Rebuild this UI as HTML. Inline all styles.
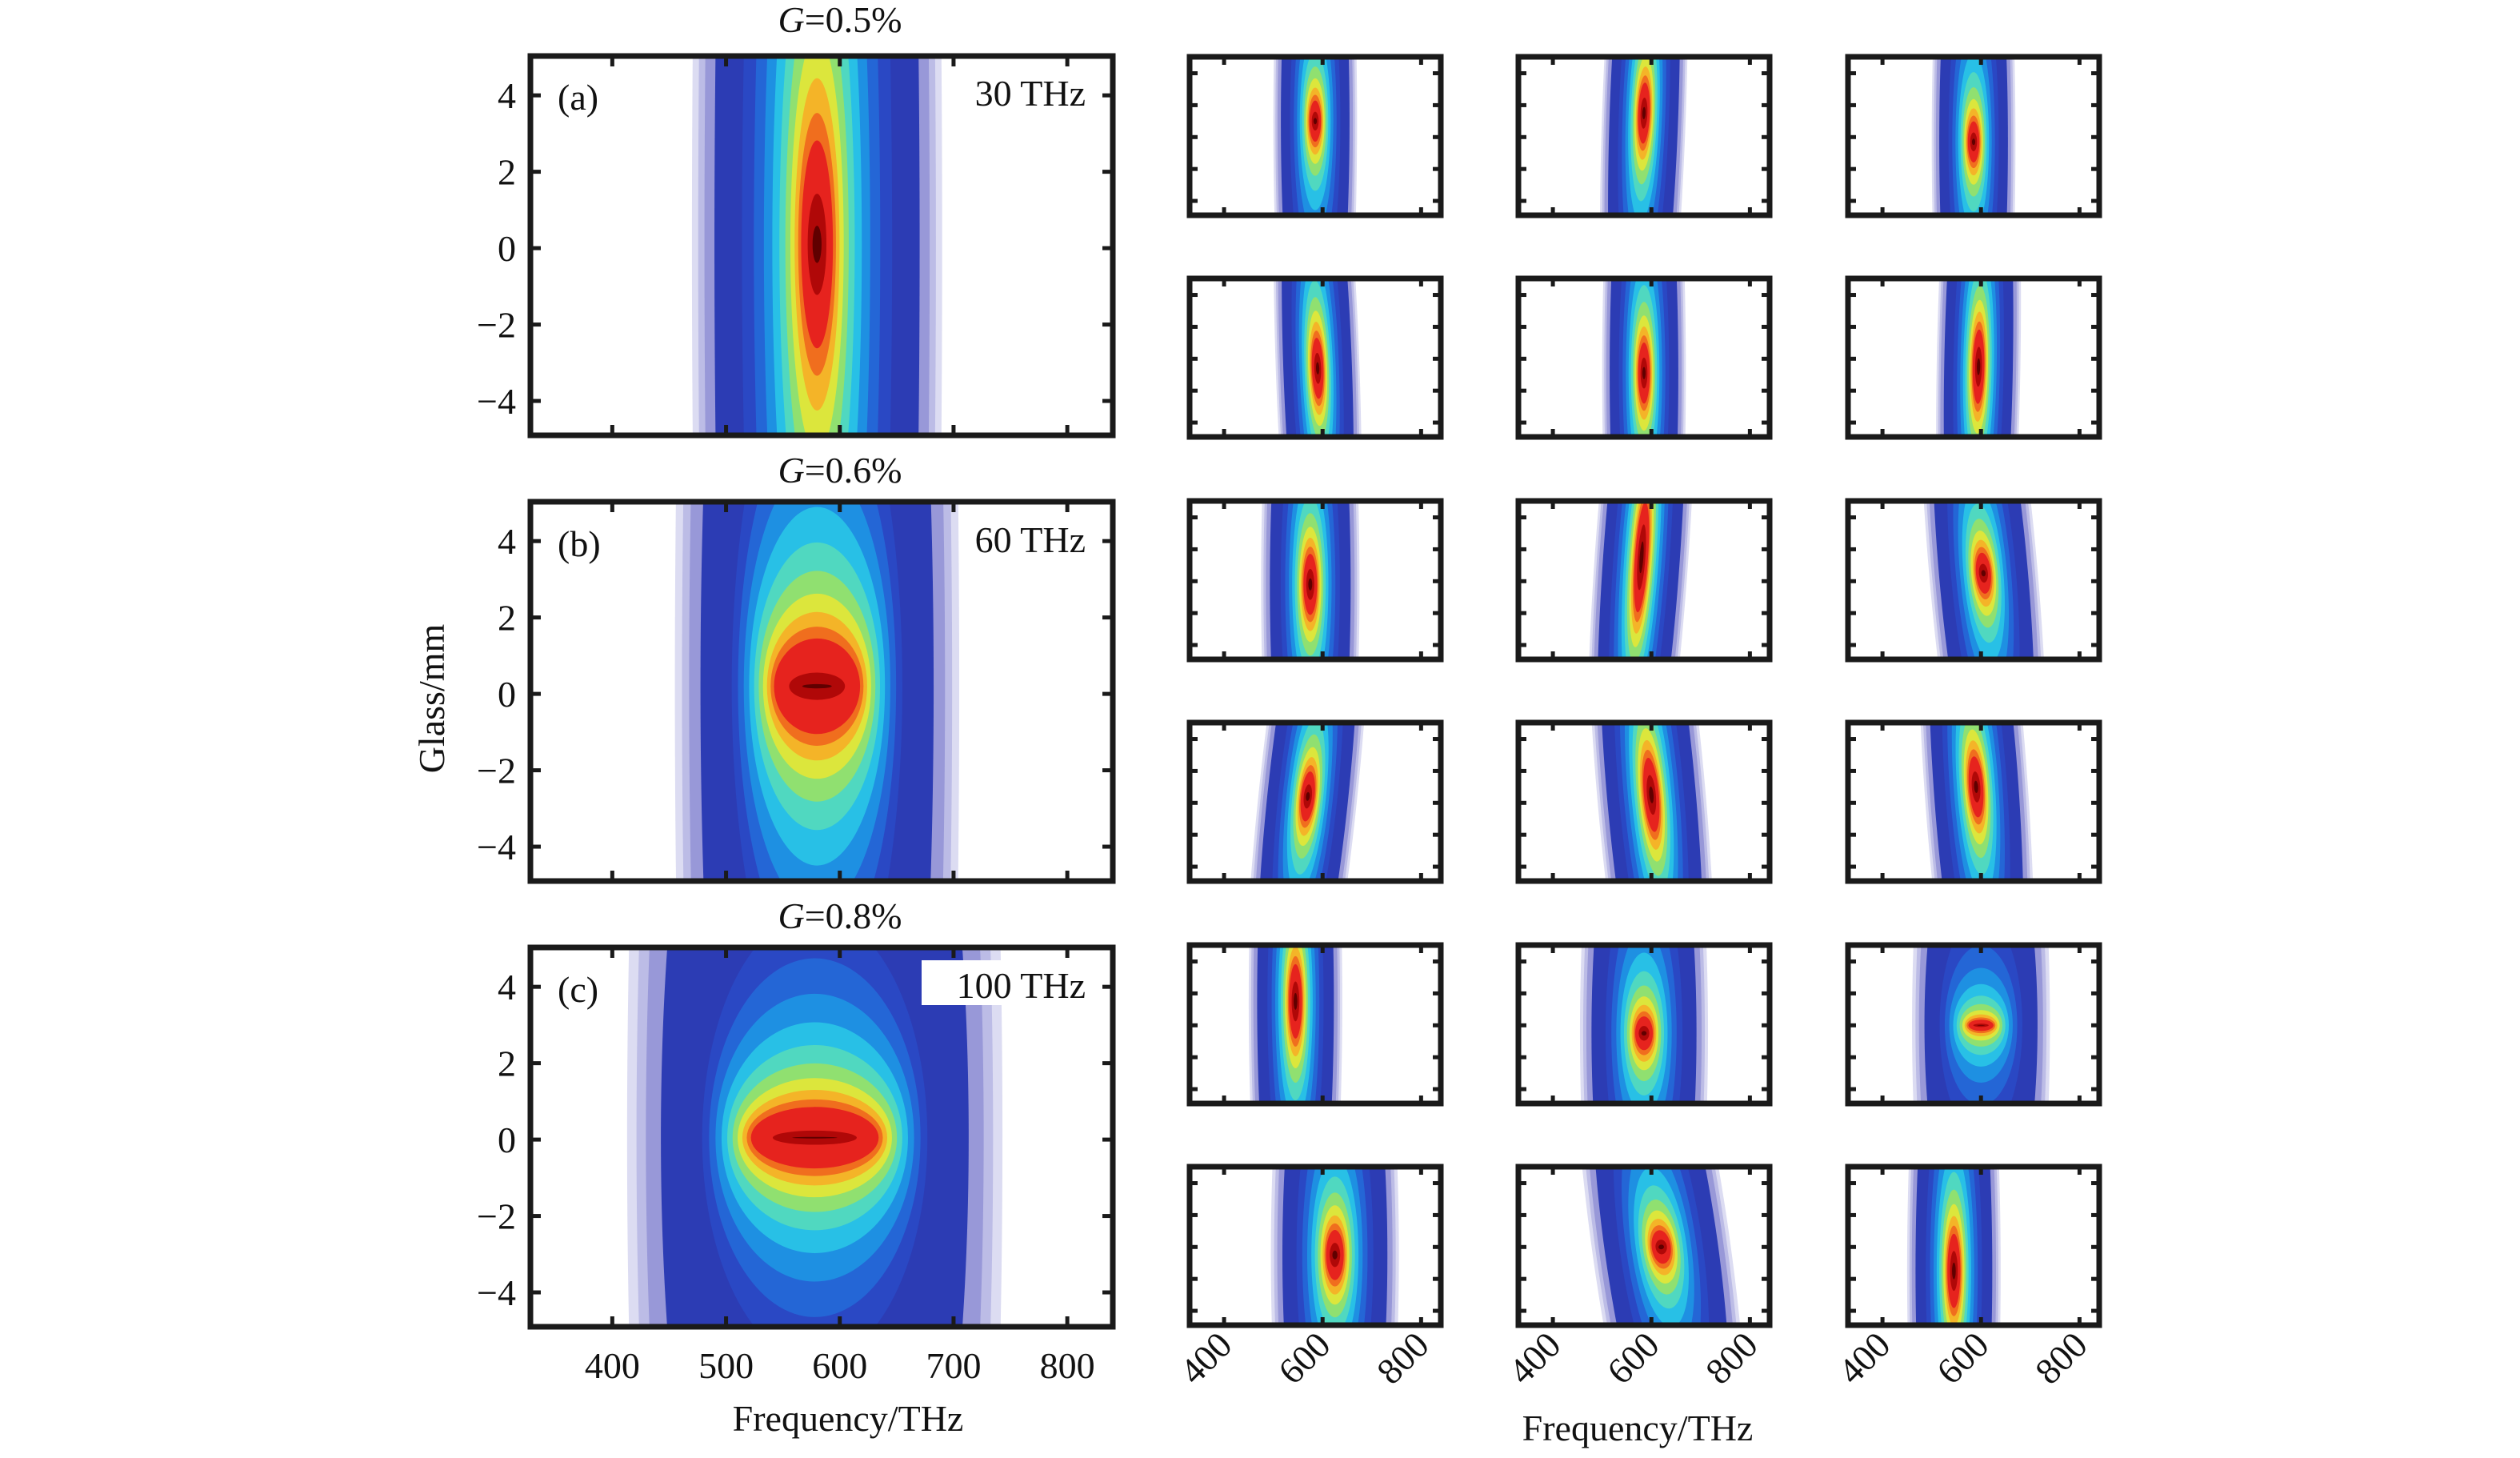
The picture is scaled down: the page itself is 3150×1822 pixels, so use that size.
<!DOCTYPE html>
<html><head><meta charset="utf-8">
<style>
html,body{margin:0;padding:0;background:#fff;overflow:hidden;width:3150px;height:1822px;}
svg{display:block;}
text{font-family:"Liberation Serif",serif;fill:#111;}
</style></head>
<body>
<svg id="s" width="3150" height="1822" viewBox="0 0 3150 1822" xmlns="http://www.w3.org/2000/svg">
<defs id="defs"></defs>
<g id="plots"></g>
<g font-size="46">
<text x="1050" y="40" text-anchor="middle"><tspan font-style="italic">G</tspan>=0.5%</text>
<text x="1050" y="603" text-anchor="middle"><tspan font-style="italic">G</tspan>=0.6%</text>
<text x="1050" y="1160" text-anchor="middle"><tspan font-style="italic">G</tspan>=0.8%</text>
<text x="697" y="137">(a)</text>
<text x="1357" y="132" text-anchor="end">30 THz</text>
<text x="697" y="695">(b)</text>
<text x="1357" y="690" text-anchor="end">60 THz</text>
<text x="697" y="1252">(c)</text>
<rect x="1152" y="1200" width="210" height="56" fill="#fff"/>
<text x="1357" y="1247" text-anchor="end">100 THz</text>
<text x="1060" y="1788" text-anchor="middle">Frequency/THz</text>
<text x="2047" y="1800" text-anchor="middle">Frequency/THz</text>
<text transform="translate(555,873) rotate(-90)" text-anchor="middle">Glass/mm</text>
</g>
<g id="labels" font-size="46"></g>
</svg>
<script>
var NS="http://www.w3.org/2000/svg";
var plots=document.getElementById('plots'),defs=document.getElementById('defs'),labs=document.getElementById('labels');
var COLS=['#dcdcf2','#bcbce6','#9898d8','#2c3cb4','#2a48c4','#2466d6','#1e90e2','#28c0e6','#50d8c0','#90e070','#dce63c','#f4b428','#f06e1e','#e6231e','#b00808','#600000'];
function el(n,a,p){var e=document.createElementNS(NS,n);for(var k in a)e.setAttribute(k,a[k]);(p||plots).appendChild(e);return e;}
var cid=0;
function frac(k,e){var f0=[1,0.95,0.9,0.82];if(k<4)return f0[k];var f=0.6*Math.pow(e/0.6,(k-4)/11);if(k==14)f*=0.7;if(k==15)f*=0.4;return f;}
function panel(P,blobs,big){
  var id='c'+(cid++);
  var cp=el('clipPath',{id:id},defs);el('rect',{x:P.x,y:P.y,width:P.w,height:P.h},cp);
  var g=el('g',{'clip-path':'url(#'+id+')'});
  function X(f){return P.x+(f-P.f0)/(P.f1-P.f0)*P.w;}
  function Y(v){return P.y+(P.y1-v)/(P.y1-P.y0)*P.h;}
  var sx=P.w/(P.f1-P.f0), sy=P.h/(P.y1-P.y0);
  var L=COLS.length;
  blobs.forEach(function(b){
    for(var k=0;k<L;k++){
      var f=frac(k,b.e);
      var rx=b.rx0*f, ry=b.ry0*Math.pow(f,b.q);
      var cx=X(b.cx), cy=Y(b.cy);
      el('ellipse',{cx:cx,cy:cy,rx:rx*sx,ry:ry*sy,fill:COLS[k],transform:'rotate('+(b.r||0)+' '+cx+' '+cy+')'},g);
    }
  });
  el('rect',{x:P.x,y:P.y,width:P.w,height:P.h,fill:'none',stroke:'#1a1a1a','stroke-width':7});
  var tl=big?13:10;
  [-4,-2,0,2,4].forEach(function(v){var y=Y(v);
    el('line',{x1:P.x,y1:y,x2:P.x+tl,y2:y,stroke:'#1a1a1a','stroke-width':5});
    el('line',{x1:P.x+P.w,y1:y,x2:P.x+P.w-tl,y2:y,stroke:'#1a1a1a','stroke-width':5});
    if(big){var t=el('text',{x:P.x-18,y:y+16,'text-anchor':'end'},labs);t.textContent=(v<0?'\u2212':'')+Math.abs(v);}
  });
  (big?[400,500,600,700,800]:[400,600,800]).forEach(function(f){var x=X(f);
    el('line',{x1:x,y1:P.y,x2:x,y2:P.y+tl,stroke:'#1a1a1a','stroke-width':5});
    el('line',{x1:x,y1:P.y+P.h,x2:x,y2:P.y+P.h-tl,stroke:'#1a1a1a','stroke-width':5});
    if(P.lab){
      if(big){var t=el('text',{x:x,y:1722,'text-anchor':'middle'},labs);t.textContent=f;}
      else{var t=el('text',{x:0,y:0,'text-anchor':'middle',transform:'translate('+(x-12)+',1708) rotate(-45)'},labs);t.textContent=f;}
    }
  });
}
var bigY=[70,627,1184];
var bigBlobs=[
 [{cx:580,cy:0.1,rx0:110,ry0:45,e:0.09,q:1.36}],
 [{cx:580,cy:0.2,rx0:125,ry0:40,e:0.26,q:2.9}],
 [{cx:578,cy:0.05,rx0:165,ry0:35,e:0.30,q:3.5}]
];
for(var i=0;i<3;i++){
  panel({x:663,y:bigY[i],w:728,h:474,f0:328,f1:840,y0:-4.9,y1:5.03,lab:i==2},bigBlobs[i],true);
}
var colX=[1487,1898,2310], rowY=[71,348,626,903,1181,1458];
function sb(cx,cy,r,o){var b={cx:cx,cy:cy,rx0:85,ry0:25,e:0.1,q:1.5,r:r||0};for(var k in o)b[k]=o[k];return [b];}
var small=[
 [sb(585,1.0,0),sb(585,1.5,2,{q:1.3}),sb(585,-0.3,0)],
 [sb(590,-0.6,-2,{q:1.3}),sb(585,-0.9,0,{q:1.3}),sb(595,-0.5,1,{q:1.2})],
 [sb(575,-0.2,0,{rx0:100,q:1.3}),sb(580,1.5,4,{rx0:95,q:1.0}),sb(605,0.5,-5,{rx0:110})],
 [sb(570,0.4,6,{rx0:100,q:1.4}),sb(600,0.5,-5,{rx0:110,q:1.2}),sb(590,1.0,-4,{rx0:105,q:1.3})],
 [sb(545,1.5,0,{rx0:95,q:1.2}),sb(585,-0.5,0,{rx0:130,q:1.6}),sb(600,0.0,0,{rx0:140,e:0.14,q:2.5})],
 [sb(625,-0.5,0,{rx0:130,q:1.4}),sb(620,0,-8,{rx0:140,q:1.6}),sb(545,-1.5,0,{rx0:95,q:1.2})]
];
for(var r=0;r<6;r++)for(var c=0;c<3;c++){
  panel({x:colX[c],y:rowY[r],w:314,h:198,f0:330,f1:840,y0:-4.9,y1:5.03,lab:r==5},small[r][c],false);
}
</script>
</body></html>
